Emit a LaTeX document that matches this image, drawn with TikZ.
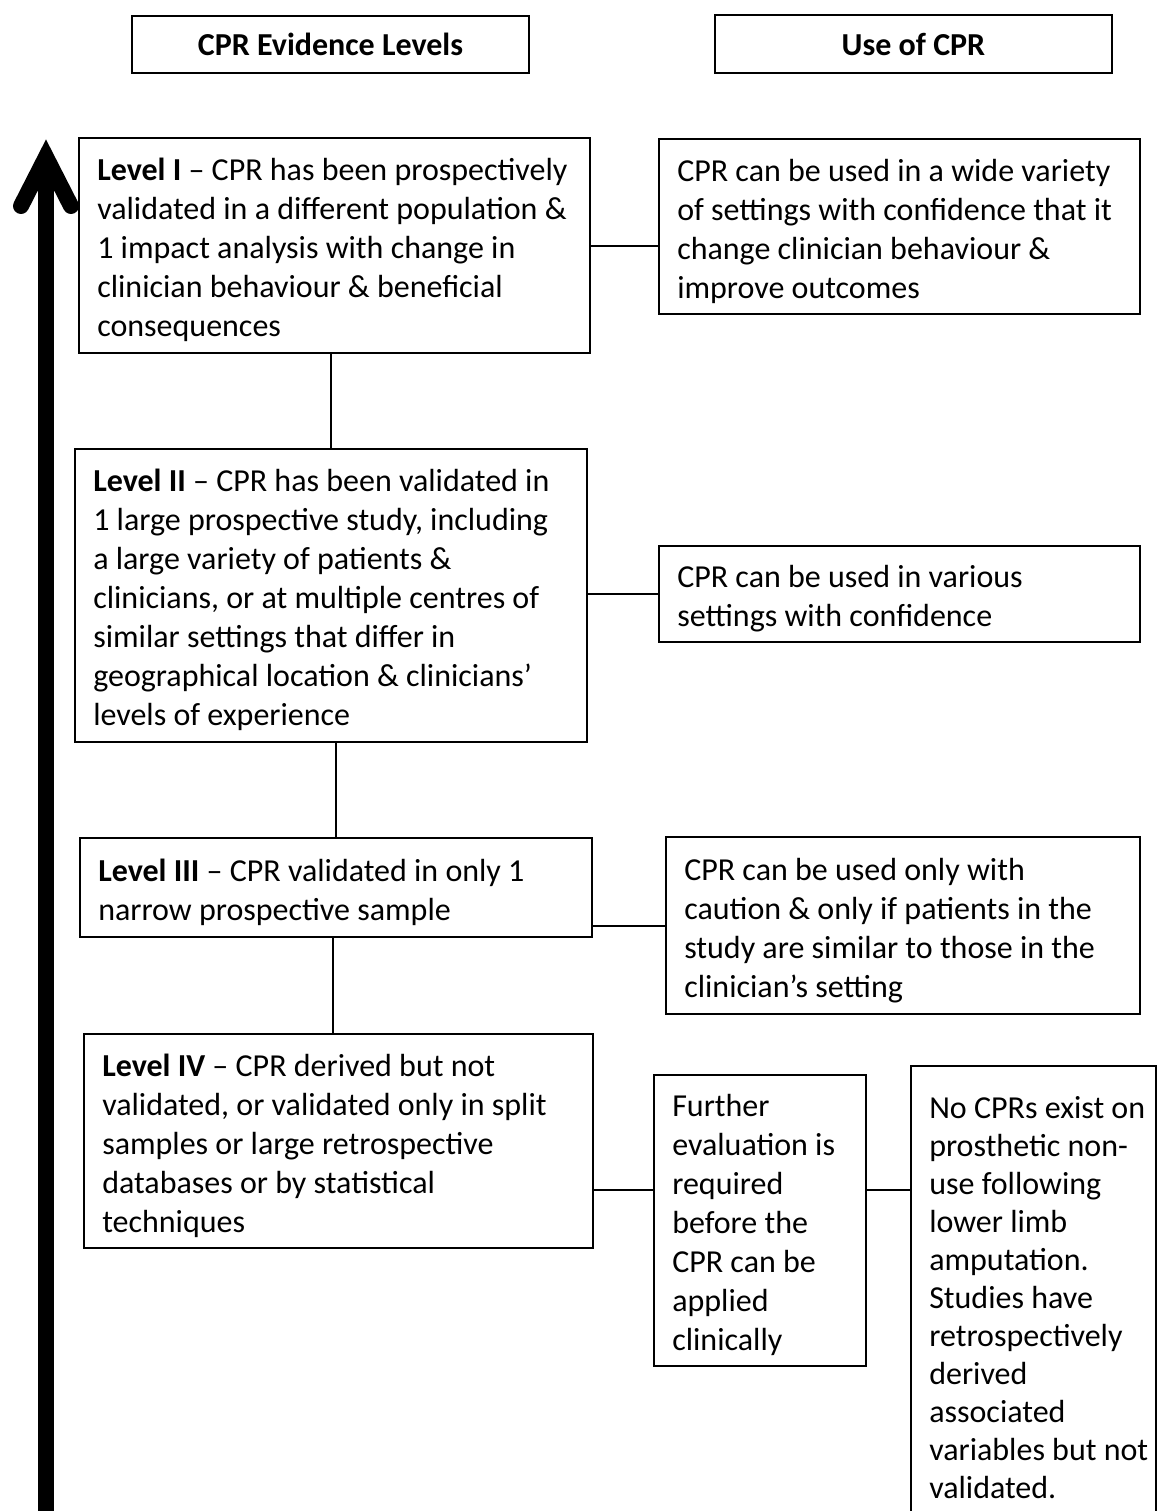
\documentclass[tikz,border=0pt]{standalone}
\usepackage{fontspec}
\setmainfont{Carlito}
\begin{document}
\begin{tikzpicture}[x=0.75pt,y=-0.75pt,
  frame/.style={draw=black, line width=1.5pt, inner sep=0pt},
  txt/.style={anchor=west, inner sep=0pt, align=flush left,
    font=\fontsize{24}{29.25}\selectfont},
  head/.style={frame, align=center, font=\fontsize{24}{29.25}\selectfont\bfseries},
  link/.style={draw=black, line width=1.5pt}]
\useasboundingbox (0,0) rectangle (1157,1511);
\clip (0,0) rectangle (1157,1511);

% column headings
\node[head, minimum width=297.75pt, minimum height=42.75pt] (h1) at (330.5,44.5) {CPR Evidence Levels};
\node[head, minimum width=297.75pt, minimum height=43.5pt] (h2) at (913.5,44) {Use of CPR};

% evidence level frames
\node[frame, minimum width=383.25pt, minimum height=161.25pt] (L1) at (334.5,245.5) {};
\node[frame, minimum width=384pt, minimum height=219.75pt] (L2) at (331,595.5) {};
\node[frame, minimum width=384pt, minimum height=74.25pt] (L3) at (336,887.5) {};
\node[frame, minimum width=381.75pt, minimum height=160.5pt] (L4) at (338.5,1141) {};

% use frames
\node[frame, minimum width=360.75pt, minimum height=131.25pt] (U1) at (899.5,226.5) {};
\node[frame, minimum width=360.75pt, minimum height=72pt] (U2) at (899.5,594) {};
\node[frame, minimum width=355.5pt, minimum height=132.75pt] (U3) at (903,925.5) {};
\node[frame, minimum width=159pt, minimum height=218.25pt] (F) at (760,1220.5) {};
\node[frame, minimum width=183.75pt, minimum height=346.5pt] (N) at (1033.5,1297) {};

% texts inside the frames
\begin{scope}[every node/.append style={yshift=-3.5pt}]
\node[txt] (L1t) at ([xshift=14.25pt]L1.west)
  {\textbf{Level I} – CPR has been prospectively\\validated in a different population \&\\1 impact analysis with change in\\clinician behaviour \& beneficial\\consequences};
\node[txt] (L2t) at ([xshift=14.25pt]L2.west)
  {\textbf{Level II} – CPR has been validated in\\1 large prospective study, including\\a large variety of patients \&\\clinicians, or at multiple centres of\\similar settings that differ in\\geographical location \& clinicians’\\levels of experience};
\node[txt] (L3t) at ([xshift=14.25pt]L3.west)
  {\textbf{Level III} – CPR validated in only 1\\narrow prospective sample};
\node[txt] (L4t) at ([xshift=14.25pt]L4.west)
  {\textbf{Level IV} – CPR derived but not\\validated, or validated only in split\\samples or large retrospective\\databases or by statistical\\techniques};
\node[txt] (U1t) at ([xshift=14.25pt]U1.west)
  {CPR can be used in a wide variety\\of settings with confidence that it\\change clinician behaviour \&\\improve outcomes};
\node[txt] (U2t) at ([xshift=14.25pt]U2.west)
  {CPR can be used in various\\settings with confidence};
\node[txt] (U3t) at ([xshift=14.25pt]U3.west)
  {CPR can be used only with\\caution \& only if patients in the\\study are similar to those in the\\clinician’s setting};
\node[txt] (Ft) at ([xshift=14.25pt]F.west)
  {Further\\evaluation is\\required\\before the\\CPR can be\\applied\\clinically};
\node[txt, yshift=3pt, font=\fontsize{24}{28.5}\selectfont] (Nt) at ([xshift=14.25pt]N.west)
  {No CPRs exist on\\prosthetic non-\\use following\\lower limb\\amputation.\\Studies have\\retrospectively\\derived\\associated\\variables but not\\validated.};
\end{scope}

% connectors
\coordinate (r1) at (0,246);
\coordinate (r4) at (0,1190);
\coordinate (v3) at (333,0);
\path[link] (L1.east |- r1) -- (U1.west |- r1);
\path[link] (L2.north) -- (L2.north |- L1.south);
\path[link] (L2.east |- U2.west) -- (U2.west);
\path[link] (L3.north) -- (L3.north |- L2.south);
\path[link] (U3.west -| L3.east) -- (U3.west);
\path[link] (L3.south -| v3) -- (L4.north -| v3);
\path[link] (L4.east |- r4) -- (F.west |- r4);
\path[link] (F.east |- r4) -- (N.west |- r4);

% upward arrow
\coordinate (ab) at (46,1515);
\coordinate (at) at (46,160);
\coordinate (wl) at (21,206);
\coordinate (wr) at (71,206);
\coordinate (ap) at (46,157);
\draw[line width=12pt] (ab) -- (at);
\draw[line width=12pt, line cap=round, line join=miter] (wl) -- (ap) -- (wr);
\end{tikzpicture}
\end{document}
